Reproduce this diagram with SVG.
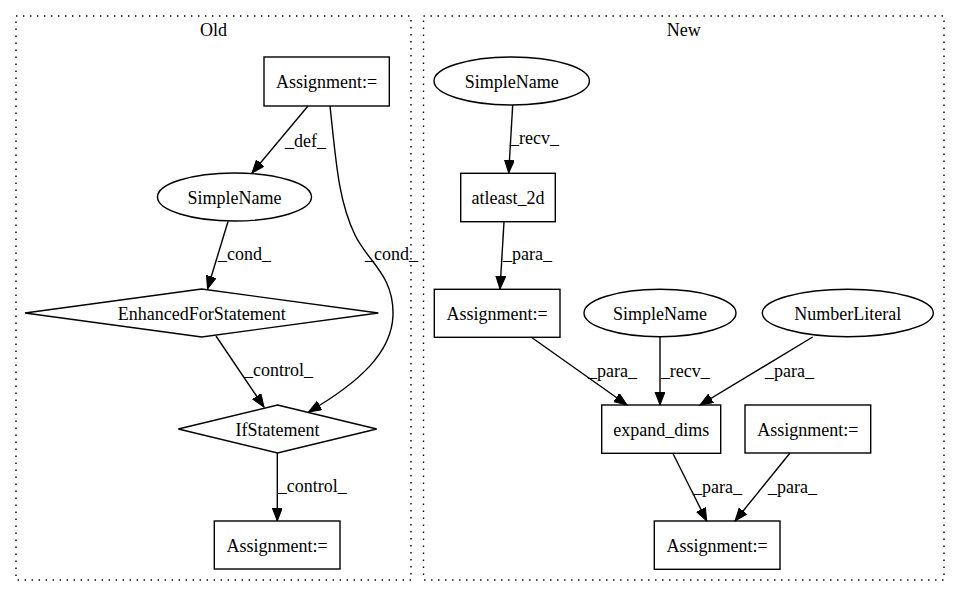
<svg xmlns="http://www.w3.org/2000/svg" width="960" height="596" viewBox="0 0 960 596">
<defs>
<marker id="ah" markerUnits="userSpaceOnUse" markerWidth="14" markerHeight="11" refX="13" refY="5" orient="auto">
<path d="M0,0 L13,5 L0,10 z" fill="#000" stroke="#000" stroke-width="1"/>
</marker>
</defs>
<rect width="960" height="596" fill="#fff"/>
<g font-family="Liberation Serif" font-size="18" fill="#000">
<g id="cluster_old">
<rect x="16" y="16" width="395" height="564" fill="none" stroke="#000" stroke-width="1.4" stroke-dasharray="1.4,5.6"/>
<text x="213.5" y="36" text-anchor="middle">Old</text>
</g>
<g id="cluster_new">
<rect x="423.5" y="16" width="520.5" height="564" fill="none" stroke="#000" stroke-width="1.4" stroke-dasharray="1.4,5.6"/>
<text x="683.7" y="36" text-anchor="middle">New</text>
</g>
<g id="connectors" stroke-width="1.4">
<g fill="none" stroke="#000" marker-end="url(#ah)">
<path d="M308,106 L252,173"/>
<path d="M228,221.5 L207.5,289"/>
<path d="M330,106 C336,160 338,200 355,235 C368,262 394,275 393,315 C392,352 360,382 308.5,412"/>
<path d="M216,336 L264,407"/>
<path d="M277.3,453 L277.3,521"/>
<path d="M512.7,105 L508.7,173"/>
<path d="M504,222 L500,289"/>
<path d="M531,337 L627,405"/>
<path d="M660,337 L660,405"/>
<path d="M812.7,337 L700,405"/>
<path d="M672.7,453 L706.7,521"/>
<path d="M790,453 L735,521"/>
</g>
<text x="285" y="147">_def_</text>
<text x="218" y="260">_cond_</text>
<text x="365" y="260">_cond_</text>
<text x="244" y="376">_control_</text>
<text x="277.7" y="492">_control_</text>
<text x="510" y="144">_recv_</text>
<text x="503" y="260">_para_</text>
<text x="588" y="377">_para_</text>
<text x="660.7" y="377">_recv_</text>
<text x="765" y="377">_para_</text>
<text x="693" y="493">_para_</text>
<text x="768" y="493">_para_</text>
</g>
<g id="nodes" text-anchor="middle">
<g id="old_assign1">
<rect x="264" y="57" width="125.3" height="49" fill="none" stroke="#000" stroke-width="1.4"/>
<text x="326.7" y="87.5">Assignment:=</text>
</g>
<g id="old_simplename">
<ellipse cx="234.5" cy="197" rx="77" ry="24" fill="none" stroke="#000" stroke-width="1.4"/>
<text x="234.5" y="203.5">SimpleName</text>
</g>
<g id="old_efs">
<polygon points="201.7,289 378.3,313 201.7,337 25,313" fill="none" stroke="#000" stroke-width="1.4"/>
<text x="201.7" y="319.5">EnhancedForStatement</text>
</g>
<g id="old_if">
<polygon points="277.5,405 376.7,429 277.5,453 178.3,429" fill="none" stroke="#000" stroke-width="1.4"/>
<text x="277.5" y="435.5">IfStatement</text>
</g>
<g id="old_assign2">
<rect x="214.3" y="521" width="125.7" height="48" fill="none" stroke="#000" stroke-width="1.4"/>
<text x="277.2" y="551.5">Assignment:=</text>
</g>
<g id="new_simplename1">
<ellipse cx="511.7" cy="81" rx="77.7" ry="24" fill="none" stroke="#000" stroke-width="1.4"/>
<text x="511.7" y="87.5">SimpleName</text>
</g>
<g id="new_atleast">
<rect x="460.7" y="173.3" width="94.6" height="48.4" fill="none" stroke="#000" stroke-width="1.4"/>
<text x="508" y="204">atleast_2d</text>
</g>
<g id="new_assign1">
<rect x="434.3" y="289.3" width="125.7" height="48" fill="none" stroke="#000" stroke-width="1.4"/>
<text x="497.2" y="319.5">Assignment:=</text>
</g>
<g id="new_simplename2">
<ellipse cx="660" cy="313" rx="76" ry="23.7" fill="none" stroke="#000" stroke-width="1.4"/>
<text x="660" y="319.5">SimpleName</text>
</g>
<g id="new_numlit">
<ellipse cx="847.8" cy="313" rx="85.5" ry="23.7" fill="none" stroke="#000" stroke-width="1.4"/>
<text x="847.8" y="319.5">NumberLiteral</text>
</g>
<g id="new_expand">
<rect x="601.7" y="405" width="119" height="48.3" fill="none" stroke="#000" stroke-width="1.4"/>
<text x="661.2" y="435.5">expand_dims</text>
</g>
<g id="new_assign2">
<rect x="745" y="405" width="125.7" height="48" fill="none" stroke="#000" stroke-width="1.4"/>
<text x="807.9" y="435.5">Assignment:=</text>
</g>
<g id="new_assign3">
<rect x="654.3" y="521" width="125.7" height="48.3" fill="none" stroke="#000" stroke-width="1.4"/>
<text x="717.2" y="551.5">Assignment:=</text>
</g>
</g>
</g>
</svg>
